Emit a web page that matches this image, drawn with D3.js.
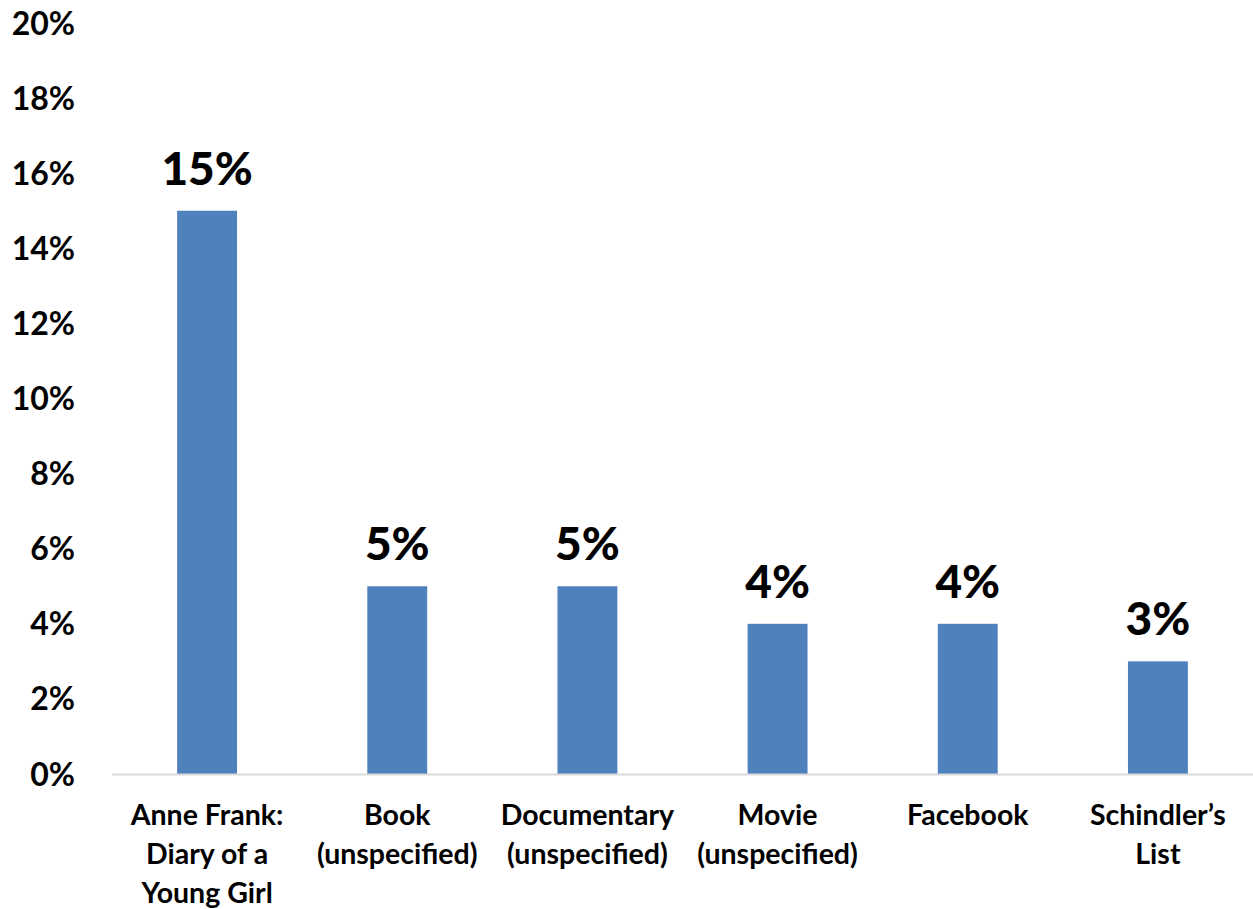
<!DOCTYPE html>
<html>
<head>
<meta charset="utf-8">
<script src="https://cdn.jsdelivr.net/npm/d3@7/dist/d3.min.js"></script>
<style>
  body { margin: 0; background: #fff; }
  text { font-family: Lato, "Open Sans", sans-serif; font-weight: 700; fill: #000; }
</style>
</head>
<body>
<div id="chart"></div>
<script>
// chart values
var categories = ["Anne Frank:\nDiary of a\nYoung Girl", "Book\n(unspecified)", "Documentary\n(unspecified)", "Movie\n(unspecified)", "Facebook", "Schindler\u2019s\nList"];
var values = [15, 5, 5, 4, 4, 3];
var yTicks = [0, 2, 4, 6, 8, 10, 12, 14, 16, 18, 20];

var width = 1253, height = 909;
var margin = {top: 23, right: 0, bottom: 135, left: 112};

var svg = d3.select("#chart").append("svg")
    .attr("width", width)
    .attr("height", height);

var x = d3.scaleBand()
    .domain(categories)
    .range([margin.left, width - margin.right])
    .paddingInner(0.685)
    .paddingOuter(0.3425);

var y = d3.scaleLinear()
    .domain([0, 20])
    .range([height - margin.bottom, margin.top]);

// y axis labels only, no line
svg.selectAll(".ytick")
    .data(yTicks)
  .enter().append("text")
    .attr("class", "ytick")
    .attr("x", 75)
    .attr("y", (d) => y(d))
    .attr("dy", "0.36em")
    .style("text-anchor", "end")
    .style("font-size", "32px")
    .text((d) => d + "%");

// bars
svg.selectAll(".bar")
    .data(values)
  .enter().append("rect")
    .attr("class", "bar")
    .attr("x", (d, i) => x(categories[i]))
    .attr("y", (d) => y(d))
    .attr("width", x.bandwidth())
    .attr("height", (d) => y(0) - y(d))
    .style("fill", "#4f81bd");

// baseline
svg.append("line")
    .attr("x1", margin.left)
    .attr("x2", width)
    .attr("y1", y(0) + 0.5)
    .attr("y2", y(0) + 0.5)
    .style("stroke", "#d9d9d9")
    .style("stroke-width", 2);

// value labels
svg.selectAll(".val")
    .data(values)
  .enter().append("text")
    .attr("class", "val")
    .attr("x", (d, i) => x(categories[i]) + x.bandwidth() / 2)
    .attr("y", (d) => y(d) - 26)
    .style("text-anchor", "middle")
    .style("font-size", "46px")
    .style("font-weight", 900)
    .text((d) => d + "%");

// category labels
var cat = svg.selectAll(".cat")
    .data(categories)
  .enter().append("text")
    .attr("class", "cat")
    .attr("x", (d) => x(d) + x.bandwidth() / 2)
    .attr("y", 825)
    .style("text-anchor", "middle")
    .style("font-size", "28.5px");

cat.selectAll("tspan")
    .data((d) => d.split("\n").map((s) => ({s: s, c: d})))
  .enter().append("tspan")
    .attr("x", (d) => x(d.c) + x.bandwidth() / 2)
    .attr("dy", (d, i) => i == 0 ? 0 : 39)
    .text((d) => d.s);
</script>
</body>
</html>
